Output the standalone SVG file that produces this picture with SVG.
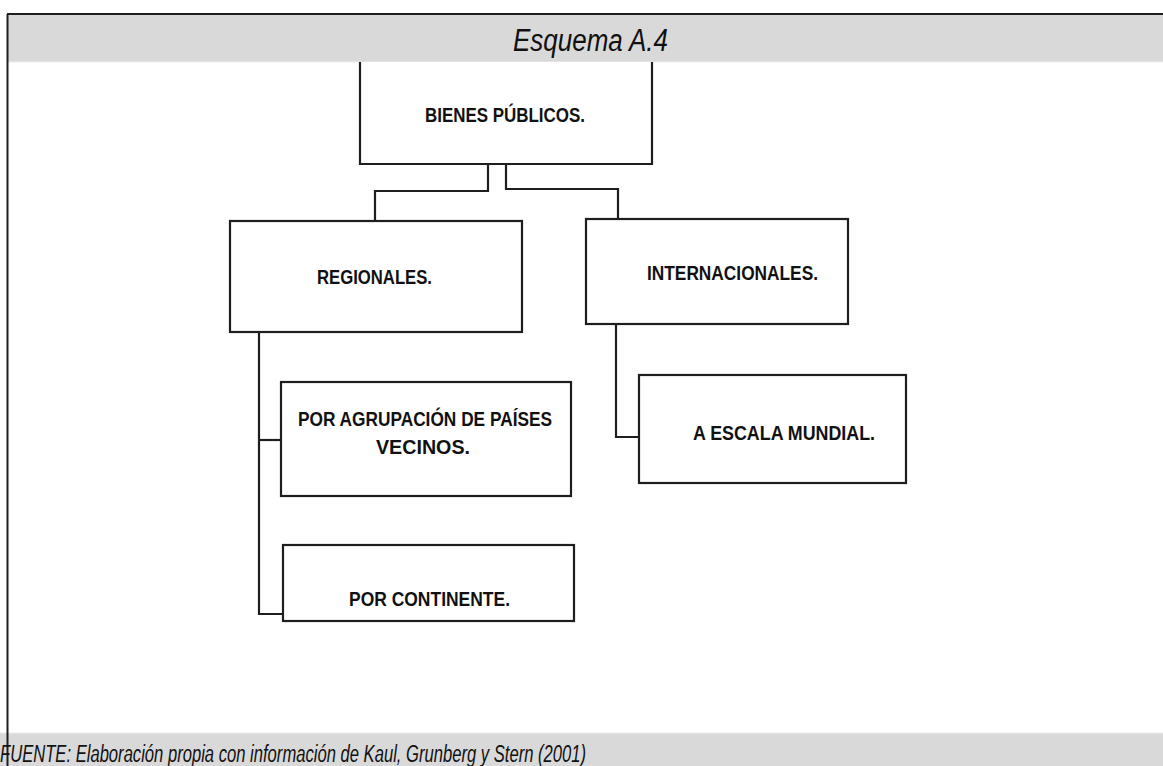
<svg xmlns="http://www.w3.org/2000/svg" width="1163" height="766" viewBox="0 0 1163 766">
<style>
.box{fill:#fff;stroke:#1e1e1e;stroke-width:2.2}
.conn{fill:none;stroke:#1e1e1e;stroke-width:2.2}
.lbl{font-family:"Liberation Sans",Arial,sans-serif;font-weight:bold;font-size:21px;fill:#111}
.ital{font-family:"Liberation Sans",Arial,sans-serif;font-style:italic;fill:#111}
</style>
<rect x="0" y="0" width="1163" height="766" fill="#fff"/>
<g id="header">
<rect x="8" y="15" width="1155" height="47" fill="#d9d9d9"/>
<line x1="7" y1="14" x2="1163" y2="14" stroke="#1e1e1e" stroke-width="2"/>
<line x1="8" y1="62" x2="1163" y2="62" stroke="#ececec" stroke-width="1"/>
<text class="ital" x="513" y="51" font-size="31" textLength="155" lengthAdjust="spacingAndGlyphs">Esquema A.4</text>
</g>
<g id="footer">
<rect x="0" y="733" width="1163" height="33" fill="#d9d9d9"/>
<line x1="0" y1="733" x2="1163" y2="733" stroke="#ececec" stroke-width="1"/>
</g>
<line x1="7.5" y1="14" x2="7.5" y2="766" stroke="#1e1e1e" stroke-width="2"/>
<text class="ital" x="0" y="762" font-size="23" textLength="586" lengthAdjust="spacingAndGlyphs">FUENTE: Elaboración propia con información de Kaul, Grunberg y Stern (2001)</text>
<g id="connectors">
<path class="conn" d="M488,164 V191 H375 V221"/>
<path class="conn" d="M506,164 V189 H618 V220"/>
<path class="conn" d="M259,332 V614 H283"/>
<path class="conn" d="M259,440 H281"/>
<path class="conn" d="M616,324 V437 H639"/>
</g>
<g id="n-bienes">
<path class="box" d="M360,62 V164 H652 V62"/>
<text class="lbl" x="425" y="122" textLength="160" lengthAdjust="spacingAndGlyphs">BIENES PÚBLICOS.</text>
</g>
<g id="n-regionales">
<rect class="box" x="230" y="221" width="292" height="111"/>
<text class="lbl" x="317" y="284" textLength="115" lengthAdjust="spacingAndGlyphs">REGIONALES.</text>
</g>
<g id="n-internacionales">
<rect class="box" x="586" y="219" width="262" height="105"/>
<text class="lbl" x="647" y="280" textLength="171" lengthAdjust="spacingAndGlyphs">INTERNACIONALES.</text>
</g>
<g id="n-vecinos">
<rect class="box" x="281" y="382" width="290" height="114"/>
<text class="lbl" x="298" y="426" textLength="254" lengthAdjust="spacingAndGlyphs">POR AGRUPACIÓN DE PAÍSES</text>
<text class="lbl" x="376" y="454" textLength="94" lengthAdjust="spacingAndGlyphs">VECINOS.</text>
</g>
<g id="n-mundial">
<rect class="box" x="639" y="375" width="267" height="108"/>
<text class="lbl" x="693" y="440" textLength="182" lengthAdjust="spacingAndGlyphs">A ESCALA MUNDIAL.</text>
</g>
<g id="n-continente">
<rect class="box" x="283" y="545" width="291" height="76"/>
<text class="lbl" x="349" y="606" textLength="161" lengthAdjust="spacingAndGlyphs">POR CONTINENTE.</text>
</g>
</svg>
